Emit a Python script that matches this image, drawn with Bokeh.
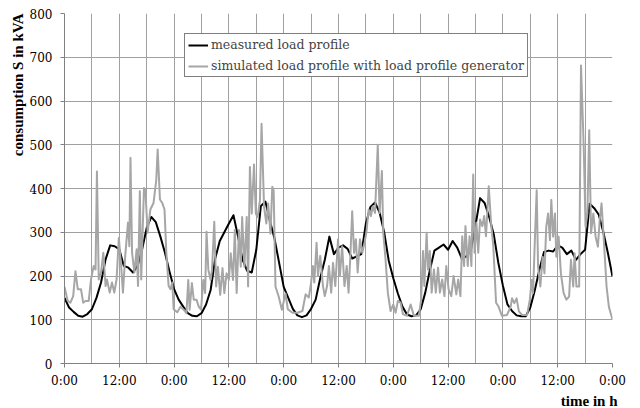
from bokeh.plotting import figure
from bokeh.models import Range1d, FixedTicker, Legend, LegendItem, Title
from bokeh.embed import file_html
from bokeh.resources import INLINE

# measured load profile, hourly values 0..120 h (kVA)
meas_hours = list(range(0, 121))
meas_kva = [150, 128, 118, 109, 107, 113, 124, 150, 185, 238, 270, 268, 261, 223, 219, 208, 223, 261, 310, 335, 323, 290, 253, 210,
            170,
            146, 130, 115, 109, 108, 115, 135, 168, 240, 280, 300, 320, 339, 290, 237, 212, 208, 260, 360, 370, 325, 285, 230,
            175,
            150, 125, 110, 106, 110, 125, 146, 195, 237, 290, 250, 265, 270, 262, 240, 245, 250, 320, 358, 368, 345, 300, 235,
            195,
            160, 130, 112, 108, 110, 124, 162, 213, 258, 265, 272, 260, 280, 265, 240, 245, 260, 315, 378, 367, 335, 295, 230,
            178,
            135, 120, 110, 108, 108, 128, 168, 215, 255, 258, 256, 270, 265, 250, 258, 237, 250, 260, 365, 355, 340, 300, 252, 199]

# simulated load profile (load profile generator)
sim_hours = [0, 0.7, 1.3, 1.9, 2.4, 2.9, 3.6, 4.1, 4.6, 5.3, 5.8, 6.4, 6.8, 7.1, 7.5, 8.0, 8.5, 9.0, 9.3, 9.9, 10.4, 10.9, 11.4, 11.9,
             12.4, 12.8, 13.3, 13.9, 14.2, 14.45, 14.8, 15.3, 15.8, 16.1, 16.5, 16.8, 17.4, 17.7, 18.2, 18.8, 19.5, 20.1, 20.4,
             20.9, 21.4, 21.9, 22.3, 22.8, 23.2, 23.6, 23.9,
             24.7, 25.4, 26.1, 26.7, 27.1, 27.4, 27.9, 28.3, 28.9, 29.4, 29.9, 30.4, 30.8, 31.1, 31.5, 32.0, 32.3, 32.8, 33.2,
             33.6, 34.1, 34.6, 35.0, 35.5, 36.0, 36.4, 36.9, 37.3, 37.7, 38.2, 38.6, 38.9, 39.4, 39.9, 40.2, 40.6, 41.0, 41.5,
             41.9, 42.3, 42.8, 43.15, 43.7, 44.2, 44.6, 45.1, 45.5, 45.8, 46.2, 46.9, 47.6, 48.4, 48.9,
             49.9, 51.0, 52.1, 52.8, 53.5, 54.0, 54.4, 54.7, 55.2, 55.5, 56.0, 56.6, 57.0, 57.5, 57.9, 58.4, 58.8, 59.3, 59.9,
             60.3, 60.8, 61.3, 61.8, 62.2, 62.6, 63.0, 63.4, 63.8, 64.2, 64.7, 65.2, 65.7, 66.1, 66.6, 67.1, 67.5, 68.0, 68.6,
             69.0, 69.5, 69.8, 70.3, 70.8, 71.4,
             72.0, 72.5, 73.0, 73.6, 74.1, 75.0, 75.8, 76.5, 77.6, 78.1, 78.5, 78.8, 79.3, 79.6, 80.0, 80.4, 80.9, 81.3, 81.8,
             82.2, 82.7, 83.2, 83.6, 84.1, 84.7, 85.2, 85.8, 86.2, 86.7, 87.1, 87.5, 87.8, 88.3, 88.7, 89.1, 89.5, 89.8, 90.2,
             90.6, 91.0, 91.5, 91.9, 92.3, 92.9, 93.4, 93.9, 94.5, 95.0, 95.8,
             96.9, 97.7, 98.0, 98.5, 99.0, 99.5, 100.2, 101.3, 101.9, 102.3, 102.6, 103.0, 103.4, 103.7, 104.2, 104.7, 105.1,
             105.5, 105.9, 106.3, 106.6, 107.0, 107.4, 107.7, 108.2, 108.7, 109.3, 109.9, 110.5, 110.9, 111.4, 111.7, 112.1,
             112.7, 113.1, 113.7, 114.1, 114.5, 114.9, 115.3, 115.8, 116.3, 116.8, 117.2, 117.6, 118.1, 118.7, 119.2, 119.6, 120.0]
sim_kva = [175, 143, 139, 154, 211, 170, 170, 139, 143, 143, 192, 223, 215, 439, 192, 208, 253, 177, 192, 162, 185, 162, 192, 287,
           223, 162, 246, 322, 268, 470, 253, 208, 261, 177, 394, 192, 401, 398, 299, 352, 367, 420, 489,
           375, 367, 352, 253, 177, 170, 185, 124,
           117, 130, 123, 115, 191, 123, 184, 146, 146, 130, 123, 191, 161, 301, 214, 191, 214, 324, 176,
           221, 157, 218, 161, 206, 191, 252, 191, 305, 161, 305, 221, 335, 221, 335, 176, 449, 343, 455,
           343, 335, 373, 548, 358, 320, 366, 297, 404, 396, 176, 153, 123, 160, 124,
           116, 116, 120, 158, 151, 185, 223, 185, 276, 200, 246, 177, 154, 177, 223, 162, 230, 177, 284,
           200, 268, 177, 223, 162, 246, 348, 253, 284, 208, 284, 253, 276, 299, 352, 337, 359, 344, 500,
           344, 440, 299, 238, 162, 120,
           135, 116, 143, 139, 113, 109, 135, 109, 109, 147, 257, 177, 299, 215, 257, 162, 215, 162, 219,
           162, 192, 154, 223, 170, 154, 200, 158, 192, 154, 291, 223, 314, 223, 291, 223, 432, 253, 322,
           253, 329, 314, 337, 291, 405, 322, 268, 139, 131, 109,
           111, 130, 149, 138, 149, 119, 111, 111, 146, 191, 161, 282, 396, 222, 176, 244, 206,
           313, 343, 282, 374, 290, 343, 244, 290, 206, 161, 146, 153, 237, 176, 252, 176,
           176, 681, 495, 313, 343, 533, 298, 343, 290, 267, 328, 366, 282, 176, 130, 115, 100]

x_major = list(range(0, 121, 12))
x_minor = list(range(6, 121, 12))
x_labels = {h: ("0:00" if h % 24 == 0 else "12:00") for h in x_major}
y_ticks = list(range(0, 801, 100))
x_title = "time in h"
y_title = "consumption S in kVA"

SERIF_B = "'Liberation Serif', 'Times New Roman', serif"
SERIF = "DejaVu Serif"
GRID = "#a0a0a0"

p = figure(width=640, height=408, output_backend="svg", toolbar_location=None,
           x_range=Range1d(0, 120), y_range=Range1d(0, 800),
           min_border_left=64, min_border_right=28, min_border_top=13, min_border_bottom=44)
p.outline_line_color = None
p.background_fill_color = "white"
p.border_fill_color = "white"

r_meas = p.line(meas_hours, meas_kva, line_color="black", line_width=2, line_join="round")
r_sim = p.line(sim_hours, sim_kva, line_color="#a6a6a6", line_width=2, line_join="round")

p.xaxis.ticker = FixedTicker(ticks=x_major, minor_ticks=x_minor)
p.xaxis.major_label_overrides = x_labels
p.yaxis.ticker = FixedTicker(ticks=y_ticks)

p.xgrid.grid_line_color = GRID
p.xgrid.minor_grid_line_color = GRID
p.ygrid.grid_line_color = GRID

for ax in (p.xaxis[0], p.yaxis[0]):
    ax.axis_line_color = "#808080"
    ax.major_tick_line_color = "#808080"
    ax.major_tick_out = 4
    ax.major_tick_in = 0
    ax.minor_tick_line_color = None
    ax.major_label_text_font = SERIF
    ax.major_label_text_font_size = "12px"
    ax.major_label_text_color = "black"

p.xaxis.major_label_standoff = 6
p.yaxis.major_label_standoff = 8

ty = Title(text=y_title, align="right", text_font=SERIF_B, text_font_size="15px",
           text_font_style="bold", text_color="black", standoff=2, offset=0)
p.add_layout(ty, "left")
tx = Title(text=x_title, align="right", text_font=SERIF_B, text_font_size="15px",
           text_font_style="bold", text_color="black", standoff=0, offset=-5)
p.add_layout(tx, "below")

legend = Legend(items=[LegendItem(label="measured load profile", renderers=[r_meas]),
                       LegendItem(label="simulated load profile with load profile generator", renderers=[r_sim])],
                location=(120, 286))
legend.border_line_color = "black"
legend.border_line_width = 1
legend.background_fill_color = "white"
legend.background_fill_alpha = 1
legend.label_text_font = SERIF
legend.label_text_font_size = "12.5px"
legend.glyph_width = 20
legend.glyph_height = 10
legend.label_height = 10
legend.label_standoff = 3
legend.spacing = 6
legend.padding = 3
legend.margin = 0
p.add_layout(legend, "center")

open("out.html", "w").write(file_html(p, INLINE))
